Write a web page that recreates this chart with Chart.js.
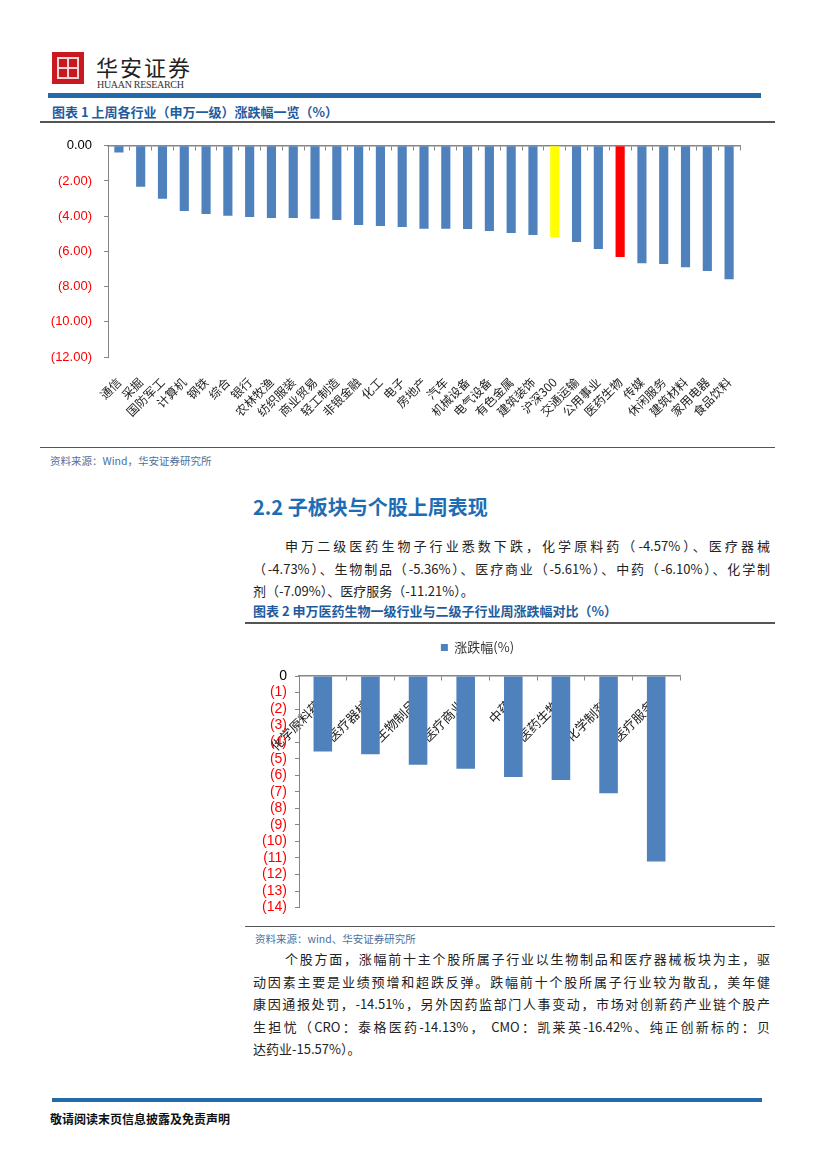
<!DOCTYPE html>
<html>
<head>
<meta charset="utf-8">
<script src="https://cdn.jsdelivr.net/npm/chart.js@4"></script>
<style>
  body { margin: 0; background: #fff; font-family: "Noto Sans CJK SC", sans-serif; }
  .page { position: relative; width: 827px; height: 1169px; overflow: hidden; }
  .abs { position: absolute; }
  .logo { left: 52px; top: 52px; width: 32px; height: 32px; background: #c9181f; }
  .logo .inner { position: absolute; left: 5px; top: 5px; width: 18px; height: 18px; border: 2px solid #f3d6d6; }
  .logo .h { position: absolute; left: 5px; top: 15px; width: 22px; height: 2px; background: #f3d6d6; }
  .logo .v { position: absolute; left: 15px; top: 5px; width: 2px; height: 22px; background: #f3d6d6; }
  .brand { left: 96px; top: 50px; font-size: 22px; letter-spacing: 2px; color: #222; font-weight: normal; }
  .brand-en { left: 97px; top: 79px; font-family: "Liberation Serif", serif; font-size: 10px; color: #333; letter-spacing: -0.3px; }
  .bar { background: #2469aa; }
  .rule { background: #555; height: 1px; }
  .title { font-size: 13px; font-weight: bold; color: #1f5c9e; white-space: nowrap; }
  .source { font-size: 10.5px; color: #4d6f9c; white-space: nowrap; }
  .h2 { left: 253px; top: 492px; font-size: 20px; font-weight: bold; color: #1d6db4; white-space: nowrap; }
  .para { font-size: 13px; color: #222; line-height: 22.5px; }
  .para div { white-space: nowrap; }
  .para .j { text-align: justify; text-align-last: justify; }
  .foot { left: 50px; top: 1110px; font-size: 12px; font-weight: bold; color: #111; }
</style>
</head>
<body>
<div class="page">
  <div class="abs logo"><div class="inner"></div><div class="h"></div><div class="v"></div></div>
  <div class="abs brand">华安证券</div>
  <div class="abs brand-en">HUAAN RESEARCH</div>
  <div class="abs bar" style="left:48px;top:93px;width:713px;height:5px;"></div>

  <div class="abs title" style="left:52px;top:102px;">图表 1 上周各行业（申万一级）涨跌幅一览（%）</div>
  <div class="abs rule" style="left:40px;top:121px;width:735px;height:1.5px;"></div>
  <div class="abs" style="left:40px;top:126px;width:740px;height:304px;"><canvas id="chart1"></canvas></div>
  <div class="abs rule" style="left:40px;top:447px;width:735px;"></div>
  <div class="abs source" style="left:50px;top:453px;">资料来源：Wind，华安证券研究所</div>

  <div class="abs h2">2.2 子板块与个股上周表现</div>
  <div class="abs para" style="left:253px;top:535px;width:517px;">
    <div class="j" style="padding-left:32px;">申万二级医药生物子行业悉数下跌，化学原料药（-4.57%）、医疗器械</div>
    <div class="j">（-4.73%）、生物制品（-5.36%）、医疗商业（-5.61%）、中药（-6.10%）、化学制</div>
    <div>剂（-7.09%）、医疗服务（-11.21%）。</div>
  </div>
  <div class="abs title" style="left:253px;top:601px;">图表 2 申万医药生物一级行业与二级子行业周涨跌幅对比（%）</div>
  <div class="abs rule" style="left:245px;top:622px;width:530px;height:1.5px;"></div>
  <div class="abs" style="left:245px;top:629px;width:470px;height:295px;"><canvas id="chart2"></canvas></div>
  <div class="abs rule" style="left:245px;top:926px;width:530px;"></div>
  <div class="abs source" style="left:255px;top:931px;">资料来源：wind、华安证券研究所</div>

  <div class="abs para" style="left:253px;top:948px;width:517px;">
    <div class="j" style="padding-left:32px;">个股方面，涨幅前十主个股所属子行业以生物制品和医疗器械板块为主，驱</div>
    <div class="j">动因素主要是业绩预增和超跌反弹。跌幅前十个股所属子行业较为散乱，美年健</div>
    <div class="j">康因通报处罚，-14.51%，另外因药监部门人事变动，市场对创新药产业链个股产</div>
    <div class="j">生担忧（CRO：泰格医药-14.13%， CMO：凯莱英-16.42%、纯正创新标的：贝</div>
    <div>达药业-15.57%）。</div>
  </div>

  <div class="abs bar" style="left:52px;top:1098px;width:710px;height:4px;"></div>
  <div class="abs foot">敬请阅读末页信息披露及免责声明</div>
</div>

<script>
// 图表1 数据
const industries = ["通信", "采掘", "国防军工", "计算机", "钢铁", "综合", "银行", "农林牧渔", "纺织服装", "商业贸易",
  "轻工制造", "非银金融", "化工", "电子", "房地产", "汽车", "机械设备", "电气设备", "有色金属", "建筑装饰",
  "沪深300", "交通运输", "公用事业", "医药生物", "传媒", "休闲服务", "建筑材料", "家用电器", "食品饮料"];
const industryChanges = [-0.38, -2.32, -3.01, -3.70, -3.87, -3.98, -4.04, -4.10, -4.10, -4.15,
  -4.21, -4.50, -4.55, -4.61, -4.72, -4.72, -4.73, -4.84, -4.95, -5.07,
  -5.18, -5.47, -5.87, -6.32, -6.67, -6.72, -6.90, -7.12, -7.58];
const indexName = "沪深300";
const sectorName = "医药生物";

// 图表2 数据
const subIndustries = ["化学原料药", "医疗器械", "生物制品", "医疗商业", "中药", "医药生物", "化学制剂", "医疗服务"];
const subChanges = [-4.57, -4.73, -5.36, -5.61, -6.10, -6.28, -7.09, -11.21];
const legendLabel = "涨跌幅(%)";

const BLUE = "#4f81bd";
const AXIS = "#868686";
const cjkFont = "'Noto Sans CJK SC', sans-serif";
const numFont = "'Liberation Sans', Arial, sans-serif";

const barColors = industries.map((name) => {
  if (name === indexName) return "#ffff00";
  if (name === sectorName) return "#ff0000";
  return BLUE;
});

const negLabel = (digits) => (value) =>
  value === 0 ? (0).toFixed(digits) : `(${Math.abs(value).toFixed(digits)})`;

// 只占位置、不画任何东西的轴
const spacer = (position, size) => ({
  type: "category",
  position,
  border: { display: false },
  grid: { display: false },
  ticks: { display: false },
  afterFit: (scale) => {
    if (scale.isHorizontal()) scale.height = size;
    else scale.width = size;
  },
});

const renderChart1 = () => {
  new Chart(document.querySelector("#chart1"), {
    type: "bar",
    data: {
      labels: industries,
      datasets: [{
        data: industryChanges,
        backgroundColor: barColors,
        categoryPercentage: 1,
        barPercentage: 0.42,
        xAxisID: "x",
        yAxisID: "y",
      }],
    },
    options: {
      responsive: true,
      maintainAspectRatio: false,
      animation: false,
      layout: { padding: { top: 12, right: 40, left: 0, bottom: 0 } },
      plugins: { legend: { display: false }, tooltip: { enabled: false } },
      scales: {
        x: {
          position: "bottom",
          border: { display: false },
          grid: { display: false },
          afterFit: (scale) => { scale.height = 73; },
          ticks: {
            autoSkip: false,
            minRotation: 45,
            maxRotation: 45,
            padding: 10,
            color: "#222",
            font: { family: cjkFont, size: 12 },
          },
        },
        y: {
          min: -12,
          max: 0,
          afterFit: (scale) => { scale.width = 68; },
          border: { color: AXIS },
          grid: { drawOnChartArea: false, tickLength: 4, color: AXIS },
          ticks: {
            stepSize: 2,
            padding: 12,
            callback: negLabel(2),
            color: (ctx) => (ctx.tick.value === 0 ? "#000" : "#ff0000"),
            font: { family: numFont, size: 13 },
          },
        },
        // 零值处的横轴线
        x2: {
          type: "category",
          position: { y: 0 },
          offset: true,
          border: { color: AXIS, width: 1.5 },
          grid: { offset: true, drawOnChartArea: false, tickLength: 4, color: AXIS },
          ticks: { display: false },
        },
      },
    },
  });
};

const renderChart2 = () => {
  new Chart(document.querySelector("#chart2"), {
    type: "bar",
    data: {
      labels: subIndustries,
      datasets: [{
        label: legendLabel,
        data: subChanges,
        backgroundColor: BLUE,
        categoryPercentage: 1,
        barPercentage: 0.39,
        xAxisID: "x",
        yAxisID: "y",
      }],
    },
    options: {
      responsive: true,
      maintainAspectRatio: false,
      animation: false,
      layout: { padding: { top: 0, right: 5, left: 0, bottom: 8 } },
      plugins: {
        tooltip: { enabled: false },
        legend: {
          position: "top",
          labels: {
            boxWidth: 7,
            boxHeight: 7,
            padding: 12,
            color: "#333",
            font: { family: cjkFont, size: 13 },
          },
        },
      },
      scales: {
        x: {
          position: { y: 0 },
          z: 1,
          border: { color: AXIS, width: 1.5 },
          grid: { offset: true, drawOnChartArea: false, tickLength: 4, color: AXIS },
          ticks: {
            autoSkip: false,
            minRotation: 45,
            maxRotation: 45,
            padding: 17,
            labelOffset: -4,
            color: "#222",
            font: { family: cjkFont, size: 13 },
          },
        },
        y: {
          min: -14,
          max: 0,
          afterFit: (scale) => { scale.width = 54; },
          border: { color: AXIS },
          grid: { drawOnChartArea: false, tickLength: 4, color: AXIS },
          ticks: {
            stepSize: 1,
            autoSkip: false,
            padding: 8,
            callback: negLabel(0),
            color: (ctx) => (ctx.tick.value === 0 ? "#000" : "#ff0000"),
            font: { family: numFont, size: 14 },
          },
        },
        gapTop: spacer("top", 12),
        gapRight: spacer("right", 30),
      },
    },
  });
};

renderChart1();
renderChart2();
</script>
</body>
</html>
